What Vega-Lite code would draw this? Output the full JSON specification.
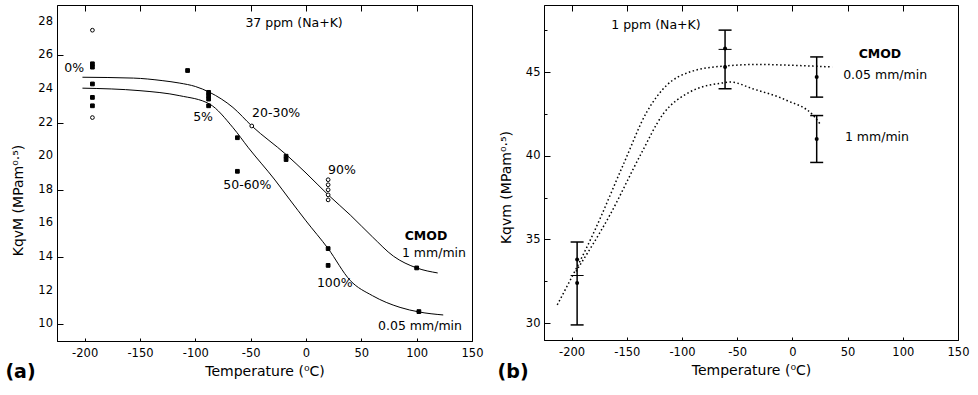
{
  "$schema": "https://vega.github.io/schema/vega-lite/v6.json",
  "background": "white",
  "padding": {"left": 4, "top": 4, "right": 5, "bottom": 5},
  "bounds": "flush",
  "spacing": 72,
  "datasets": {
    "lcurves": [
      {"series": "1 mm/min", "T": -202, "K": 24.7},
      {"series": "1 mm/min", "T": -156, "K": 24.65},
      {"series": "1 mm/min", "T": -130, "K": 24.5},
      {"series": "1 mm/min", "T": -114, "K": 24.35},
      {"series": "1 mm/min", "T": -100, "K": 24.15},
      {"series": "1 mm/min", "T": -87, "K": 23.8},
      {"series": "1 mm/min", "T": -66, "K": 22.9},
      {"series": "1 mm/min", "T": -49, "K": 21.8},
      {"series": "1 mm/min", "T": -18, "K": 20.1},
      {"series": "1 mm/min", "T": 0, "K": 19.0},
      {"series": "1 mm/min", "T": 20, "K": 17.7},
      {"series": "1 mm/min", "T": 40, "K": 16.5},
      {"series": "1 mm/min", "T": 60, "K": 15.2},
      {"series": "1 mm/min", "T": 79, "K": 14.05},
      {"series": "1 mm/min", "T": 100, "K": 13.35},
      {"series": "1 mm/min", "T": 119, "K": 13.05},
      {"series": "0.05 mm/min", "T": -202, "K": 24.05},
      {"series": "0.05 mm/min", "T": -150, "K": 23.9},
      {"series": "0.05 mm/min", "T": -114, "K": 23.6},
      {"series": "0.05 mm/min", "T": -87, "K": 23.1},
      {"series": "0.05 mm/min", "T": -66, "K": 21.7},
      {"series": "0.05 mm/min", "T": -52, "K": 20.5},
      {"series": "0.05 mm/min", "T": -28, "K": 18.58},
      {"series": "0.05 mm/min", "T": -14.5, "K": 17.4},
      {"series": "0.05 mm/min", "T": 0, "K": 16.15},
      {"series": "0.05 mm/min", "T": 20, "K": 14.5},
      {"series": "0.05 mm/min", "T": 40, "K": 12.6},
      {"series": "0.05 mm/min", "T": 60, "K": 11.7},
      {"series": "0.05 mm/min", "T": 85, "K": 11.0},
      {"series": "0.05 mm/min", "T": 102, "K": 10.73},
      {"series": "0.05 mm/min", "T": 124, "K": 10.55}
    ],
    "lpoints": [
      {"T": -193, "K": 27.5, "kind": "open"},
      {"T": -193, "K": 25.5, "kind": "filled"},
      {"T": -193, "K": 25.3, "kind": "filled"},
      {"T": -193, "K": 24.3, "kind": "filled"},
      {"T": -193, "K": 23.5, "kind": "filled"},
      {"T": -193, "K": 23.0, "kind": "filled"},
      {"T": -193, "K": 22.3, "kind": "open"},
      {"T": -107, "K": 25.1, "kind": "filled"},
      {"T": -88, "K": 23.8, "kind": "filled"},
      {"T": -88, "K": 23.6, "kind": "filled"},
      {"T": -88, "K": 23.4, "kind": "filled"},
      {"T": -88, "K": 23.0, "kind": "filled"},
      {"T": -62, "K": 21.1, "kind": "filled"},
      {"T": -62, "K": 19.1, "kind": "filled"},
      {"T": -49, "K": 21.8, "kind": "open"},
      {"T": -18, "K": 20.0, "kind": "filled"},
      {"T": -18, "K": 19.8, "kind": "filled"},
      {"T": 20, "K": 18.6, "kind": "open"},
      {"T": 20, "K": 18.3, "kind": "open"},
      {"T": 20, "K": 18.0, "kind": "open"},
      {"T": 20, "K": 17.7, "kind": "open"},
      {"T": 20, "K": 17.4, "kind": "open"},
      {"T": 20, "K": 14.5, "kind": "filled"},
      {"T": 20, "K": 13.5, "kind": "filled"},
      {"T": 100, "K": 13.35, "kind": "filled"},
      {"T": 102, "K": 10.75, "kind": "filled"}
    ],
    "lylabels": [
      {"K": 10, "label": "10"},
      {"K": 12, "label": "12"},
      {"K": 14, "label": "14"},
      {"K": 16, "label": "16"},
      {"K": 18, "label": "18"},
      {"K": 20, "label": "20"},
      {"K": 22, "label": "22"},
      {"K": 24, "label": "24"},
      {"K": 26, "label": "26"},
      {"K": 28, "label": "28"}
    ],
    "ltexts": [
      {"T": -10.8, "K": 27.9, "text": "37 ppm (Na+K)"},
      {"T": -209.5, "K": 25.25, "text": "0%"},
      {"T": -93, "K": 22.33, "text": "5%"},
      {"T": -27, "K": 22.6, "text": "20-30%"},
      {"T": -53, "K": 18.3, "text": "50-60%"},
      {"T": 32.5, "K": 19.2, "text": "90%"},
      {"T": 26, "K": 12.45, "text": "100%"},
      {"T": 115.6, "K": 14.24, "text": "1 mm/min"},
      {"T": 103, "K": 9.9, "text": "0.05 mm/min"}
    ],
    "lbold": [
      {"T": 108.4, "K": 15.25, "text": "CMOD"}
    ],
    "lpanel": [
      {"T": -258, "K": 7.15, "text": "(a)"}
    ],
    "rcurves": [
      {"series": "0.05 mm/min", "T": -213, "K": 31.1},
      {"series": "0.05 mm/min", "T": -180, "K": 35.4},
      {"series": "0.05 mm/min", "T": -153, "K": 39.5},
      {"series": "0.05 mm/min", "T": -132, "K": 42.6},
      {"series": "0.05 mm/min", "T": -114, "K": 44.2},
      {"series": "0.05 mm/min", "T": -93, "K": 45.0},
      {"series": "0.05 mm/min", "T": -63, "K": 45.35},
      {"series": "0.05 mm/min", "T": -30, "K": 45.45},
      {"series": "0.05 mm/min", "T": 0, "K": 45.4},
      {"series": "0.05 mm/min", "T": 36, "K": 45.3},
      {"series": "1 mm/min", "T": -196, "K": 33.1},
      {"series": "1 mm/min", "T": -165, "K": 36.5},
      {"series": "1 mm/min", "T": -138, "K": 40.0},
      {"series": "1 mm/min", "T": -117, "K": 42.5},
      {"series": "1 mm/min", "T": -93, "K": 43.8},
      {"series": "1 mm/min", "T": -63, "K": 44.35},
      {"series": "1 mm/min", "T": -56, "K": 44.4},
      {"series": "1 mm/min", "T": -36, "K": 44.0},
      {"series": "1 mm/min", "T": -5, "K": 43.3},
      {"series": "1 mm/min", "T": 19, "K": 42.4},
      {"series": "1 mm/min", "T": 25, "K": 41.9}
    ],
    "rpoints": [
      {"T": -195, "K": 33.8},
      {"T": -195, "K": 32.4},
      {"T": -61, "K": 46.4},
      {"T": -61, "K": 45.3},
      {"T": 22, "K": 44.7},
      {"T": 22, "K": 41.0}
    ],
    "rbars": [
      {"T": -195, "lo": 29.9, "hi": 34.85},
      {"T": -61, "lo": 44.0, "hi": 47.5},
      {"T": 22, "lo": 43.5, "hi": 45.9},
      {"T": 22, "lo": 39.6, "hi": 42.4}
    ],
    "rdash": [
      {"T": -195, "K": 32.85},
      {"T": -61, "K": 46.35}
    ],
    "rtexts": [
      {"T": -123.6, "K": 47.8, "text": "1 ppm (Na+K)"},
      {"T": 84, "K": 44.85, "text": "0.05 mm/min"},
      {"T": 76.6, "K": 41.1, "text": "1 mm/min"}
    ],
    "rbold": [
      {"T": 79.3, "K": 46.1, "text": "CMOD"}
    ],
    "rpanel": [
      {"T": -253, "K": 27.1, "text": "(b)"}
    ]
  },
  "hconcat": [
    {
      "width": 415,
      "height": 336,
      "layer": [
        {
          "data": {"name": "lcurves"},
          "mark": {"type": "line", "color": "black", "strokeWidth": 1, "interpolate": "monotone"},
          "encoding": {
            "x": {"field": "T", "type": "quantitative",
              "scale": {"domain": [-225, 150], "nice": false, "zero": false},
              "axis": {
                "title": "Temperature (⁰C)",
                "values": [-200, -175, -150, -125, -100, -75, -50, -25, 0, 25, 50, 75, 100, 125, 150],
                "labelExpr": "datum.value % 50 === 0 ? toString(datum.value) : ''",
                "labelOverlap": false,
                "tickSize": -3,
                "grid": true,
                "gridDash": {"condition": {"test": "datum.value % 50 === 0", "value": [6, 1000]}, "value": [0, 1000]},
                "labelPadding": 9
              }
            },
            "y": {"field": "K", "type": "quantitative",
              "scale": {"domain": [9, 29], "nice": false, "zero": false},
              "axis": {
                "title": "KqvM (MPam⁰·⁵)",
                "titleY": 195,
                "titlePadding": 31,
                "values": [10, 11, 12, 13, 14, 15, 16, 17, 18, 19, 20, 21, 22, 23, 24, 25, 26, 27, 28],
                "labels": false,
                "tickSize": -3,
                "grid": true,
                "gridDash": {"condition": {"test": "datum.value % 2 === 0", "value": [6, 1000]}, "value": [0, 1000]}
              }
            },
            "detail": {"field": "series"}
          }
        },
        {
          "data": {"name": "lylabels"},
          "mark": {"type": "text", "font": "DejaVu Sans", "fontSize": 11.5, "color": "black", "align": "right", "baseline": "middle", "dx": -4},
          "encoding": {
            "x": {"datum": -225, "type": "quantitative"},
            "y": {"field": "K", "type": "quantitative"},
            "text": {"field": "label"}
          }
        },
        {
          "data": {"name": "lpoints"},
          "mark": {"type": "point", "filled": false, "stroke": "black", "strokeWidth": 1, "size": 14, "opacity": 1},
          "encoding": {
            "x": {"field": "T", "type": "quantitative"},
            "y": {"field": "K", "type": "quantitative"},
            "shape": {"field": "kind", "type": "nominal", "scale": {"domain": ["filled", "open"], "range": ["square", "circle"]}, "legend": null},
            "fill": {"field": "kind", "type": "nominal", "scale": {"domain": ["filled", "open"], "range": ["black", "white"]}, "legend": null}
          }
        },
        {
          "data": {"name": "ltexts"},
          "mark": {"type": "text", "font": "DejaVu Sans", "fontSize": 12.5, "color": "black", "align": "center", "baseline": "middle"},
          "encoding": {
            "x": {"field": "T", "type": "quantitative"},
            "y": {"field": "K", "type": "quantitative"},
            "text": {"field": "text"}
          }
        },
        {
          "data": {"name": "lbold"},
          "mark": {"type": "text", "font": "DejaVu Sans", "fontSize": 12.5, "fontWeight": "bold", "color": "black", "align": "center", "baseline": "middle"},
          "encoding": {
            "x": {"field": "T", "type": "quantitative"},
            "y": {"field": "K", "type": "quantitative"},
            "text": {"field": "text"}
          }
        },
        {
          "data": {"name": "lpanel"},
          "mark": {"type": "text", "font": "DejaVu Sans", "fontSize": 19, "fontWeight": "bold", "color": "black", "align": "center", "baseline": "middle"},
          "encoding": {
            "x": {"field": "T", "type": "quantitative"},
            "y": {"field": "K", "type": "quantitative"},
            "text": {"field": "text"}
          }
        }
      ]
    },
    {
      "width": 414,
      "height": 335,
      "layer": [
        {
          "data": {"name": "rcurves"},
          "mark": {"type": "line", "color": "black", "strokeWidth": 1.5, "strokeDash": [1.5, 2.5], "interpolate": "monotone"},
          "encoding": {
            "x": {"field": "T", "type": "quantitative",
              "scale": {"domain": [-225, 150], "nice": false, "zero": false},
              "axis": {
                "title": "Temperature (⁰C)",
                "values": [-200, -175, -150, -125, -100, -75, -50, -25, 0, 25, 50, 75, 100, 125, 150],
                "labelExpr": "datum.value % 50 === 0 ? toString(datum.value) : ''",
                "labelOverlap": false,
                "tickSize": -3,
                "grid": true,
                "gridDash": {"condition": {"test": "datum.value % 50 === 0", "value": [6, 1000]}, "value": [0, 1000]},
                "labelPadding": 9
              }
            },
            "y": {"field": "K", "type": "quantitative",
              "scale": {"domain": [29, 49], "nice": false, "zero": false},
              "axis": {
                "title": "Kqvm (MPam⁰·⁵)",
                "titleY": 182,
                "values": [30, 32.5, 35, 37.5, 40, 42.5, 45, 47.5],
                "labelExpr": "datum.value % 5 === 0 ? toString(datum.value) : ''",
                "labelOverlap": false,
                "tickSize": -3,
                "grid": true,
                "gridDash": {"condition": {"test": "datum.value % 5 === 0", "value": [6, 1000]}, "value": [0, 1000]},
                "labelPadding": 7
              }
            },
            "detail": {"field": "series"}
          }
        },
        {
          "data": {"name": "rbars"},
          "mark": {"type": "rule", "color": "black", "strokeWidth": 1.5},
          "encoding": {
            "x": {"field": "T", "type": "quantitative"},
            "y": {"field": "lo", "type": "quantitative"},
            "y2": {"field": "hi"}
          }
        },
        {
          "data": {"name": "rbars"},
          "mark": {"type": "tick", "orient": "horizontal", "color": "black", "size": 13, "thickness": 1.5, "opacity": 1},
          "encoding": {
            "x": {"field": "T", "type": "quantitative"},
            "y": {"field": "lo", "type": "quantitative"}
          }
        },
        {
          "data": {"name": "rbars"},
          "mark": {"type": "tick", "orient": "horizontal", "color": "black", "size": 13, "thickness": 1.5, "opacity": 1},
          "encoding": {
            "x": {"field": "T", "type": "quantitative"},
            "y": {"field": "hi", "type": "quantitative"}
          }
        },
        {
          "data": {"name": "rdash"},
          "mark": {"type": "tick", "orient": "horizontal", "color": "black", "size": 13, "thickness": 1, "strokeDash": [2, 2], "opacity": 1},
          "encoding": {
            "x": {"field": "T", "type": "quantitative"},
            "y": {"field": "K", "type": "quantitative"}
          }
        },
        {
          "data": {"name": "rpoints"},
          "mark": {"type": "point", "shape": "circle", "filled": true, "color": "black", "size": 16, "opacity": 1},
          "encoding": {
            "x": {"field": "T", "type": "quantitative"},
            "y": {"field": "K", "type": "quantitative"}
          }
        },
        {
          "data": {"name": "rtexts"},
          "mark": {"type": "text", "font": "DejaVu Sans", "fontSize": 12.5, "color": "black", "align": "center", "baseline": "middle"},
          "encoding": {
            "x": {"field": "T", "type": "quantitative"},
            "y": {"field": "K", "type": "quantitative"},
            "text": {"field": "text"}
          }
        },
        {
          "data": {"name": "rbold"},
          "mark": {"type": "text", "font": "DejaVu Sans", "fontSize": 12.5, "fontWeight": "bold", "color": "black", "align": "center", "baseline": "middle"},
          "encoding": {
            "x": {"field": "T", "type": "quantitative"},
            "y": {"field": "K", "type": "quantitative"},
            "text": {"field": "text"}
          }
        },
        {
          "data": {"name": "rpanel"},
          "mark": {"type": "text", "font": "DejaVu Sans", "fontSize": 19, "fontWeight": "bold", "color": "black", "align": "center", "baseline": "middle"},
          "encoding": {
            "x": {"field": "T", "type": "quantitative"},
            "y": {"field": "K", "type": "quantitative"},
            "text": {"field": "text"}
          }
        }
      ]
    }
  ],
  "config": {
    "view": {"stroke": "black", "strokeWidth": 1},
    "axis": {
      "grid": false,
      "gridColor": "black",
      "gridOpacity": 1,
      "gridWidth": 1,
      "domainColor": "black",
      "domainWidth": 1,
      "ticks": true,
      "tickColor": "black",
      "tickWidth": 1,
      "tickOpacity": 1,
      "labelFont": "DejaVu Sans",
      "labelFontSize": 11.5,
      "labelColor": "black",
      "labelFlush": false,
      "titleFont": "DejaVu Sans",
      "titleFontSize": 14,
      "titleFontWeight": "normal",
      "titleColor": "black"
    },
    "axisX": {"titlePadding": 6},
    "axisY": {"titlePadding": 12}
  }
}
